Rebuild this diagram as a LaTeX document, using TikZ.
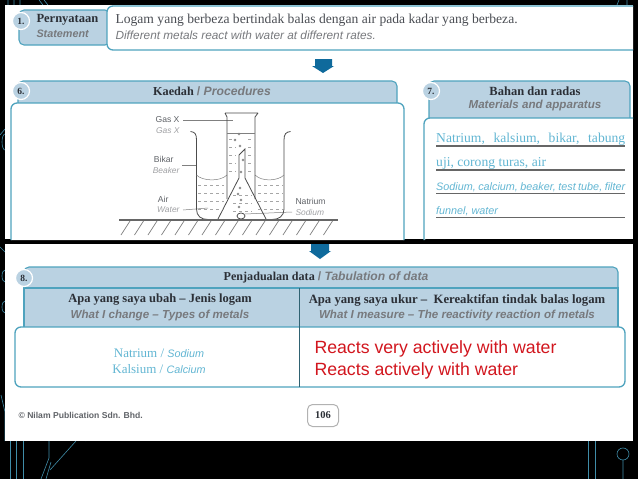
\documentclass[tikz,border=0pt]{standalone}
\usepackage{fontspec}
\setmainfont{Liberation Serif}
\setsansfont{Liberation Sans}
\definecolor{pageTeal}{HTML}{4FA3BE}
\definecolor{headBlue}{HTML}{BAD2E2}
\definecolor{arrowBlue}{HTML}{0F6A9C}
\definecolor{answerBlue}{HTML}{62B6D3}
\definecolor{noteGrey}{HTML}{77797D}
\definecolor{headInk}{HTML}{2B2F36}
\definecolor{wireTeal}{HTML}{3F8CA8}
\definecolor{reactRed}{HTML}{D2161E}
\usepackage{tikz}
\usetikzlibrary{positioning}

\begin{document}
\begin{tikzpicture}[
                x=1pt, y=-1pt,
                sheet/.style={fill=white, draw=none},
                headbox/.style={fill=headBlue, draw=pageTeal, line width=1.1pt, rounded corners=5pt},
                bodybox/.style={fill=white, draw=pageTeal, line width=1.3pt, rounded corners=6pt},
                numdot/.style={circle, fill=headBlue, draw=white, line width=1.2pt, minimum size=17pt, inner sep=0pt,
                               font=\rmfamily\bfseries\fontsize{9.5}{10}\selectfont, text=headInk},
                bmtext/.style={font=\rmfamily\bfseries\fontsize{12.5}{14}\selectfont, text=headInk},
                entext/.style={font=\sffamily\bfseries\itshape\fontsize{11.6}{13}\selectfont, text=noteGrey},
                parttext/.style={font=\sffamily\fontsize{8.6}{10}\selectfont, text=headInk!75},
                partnote/.style={font=\sffamily\itshape\fontsize{8.4}{10}\selectfont, text=noteGrey!70},
                answerbm/.style={font=\rmfamily\fontsize{13.6}{16}\selectfont, text=answerBlue, inner sep=0pt},
                answeren/.style={font=\sffamily\itshape\fontsize{10.8}{12}\selectfont, text=answerBlue, inner sep=0pt},
                tablecell/.style={font=\rmfamily\fontsize{13}{15}\selectfont, text=answerBlue},
                reacttext/.style={anchor=west, font=\sffamily\fontsize{17.7}{20}\selectfont, text=reactRed},
                kit/.style={draw=black!70, line width=0.8pt},
                thinkit/.style={draw=black!50, line width=0.5pt},
                rulekit/.style={draw=black!60, line width=1.4pt},
                wire/.style={draw=wireTeal, line width=0.6pt},
                blockarrow/.style={fill=arrowBlue, draw=none}
            ]
                \fill[black] (0,0) rectangle (638,479);
                \useasboundingbox (0,0) rectangle (638,479);
                \draw[wire] (8,0) -- (8,5) (14,0) -- (14,5) (20,0) -- (20,5) (39,0) -- (43,5) (44,0) -- (48,5);
                \draw[wire] (617,5) -- (619,0) (627,0) -- (627,5);
                \draw[wire] (0,135) -- (5,129) (5,150) arc (90:270:3 and 8);
                \draw[wire] (0,247) -- (5,252) (5,282) arc (90:270:3 and 6) (5,313) arc (90:270:3 and 6);
                \draw[wire] (1,395) -- (5,412) -- (5,441);
                \draw[wire] (10,441) -- (10,479) (16,441) -- (16,479) (23,441) -- (23,479);
                \draw[wire] (49,441) -- (49,458) -- (41,479) (46,479) -- (51,462);
                \draw[wire] (76,441) -- (50,470) (78,441) arc (180:360:4 and 2.5);
                \draw[wire] (588,441) -- (588,479) (595,441) -- (595,479);
                \draw[wire] (623,460) -- (623,479) (623,454) circle (6);

                \fill[sheet] (5,5) rectangle (633,239);
                \fill[sheet] (5,244) rectangle (633,441);

                \draw[headbox] (19,10) -- (19,45) -- (110,45) -- (110,10) -- cycle;
                \draw[bodybox] (633,6) -- (107,6) -- (107,50) -- (633,50);
                \node[numdot] (n1) at (21,21) {1.};
                \node[bmtext, anchor=west] (stateBm) at (33,20) {Pernyataan};
                \node[entext, anchor=west, font=\sffamily\bfseries\itshape\fontsize{10.8}{12}\selectfont] (stateEn) at (33,34) {Statement};
                \node[anchor=west, font=\rmfamily\fontsize{13.6}{15}\selectfont, text=headInk!85] (lineBm) at (112,20) {Logam yang berbeza bertindak balas dengan air pada kadar yang berbeza.};
                \node[anchor=west, font=\sffamily\itshape\fontsize{11.8}{13}\selectfont, text=noteGrey] (lineEn) at (112,35) {Different metals react with water at different rates.};

                \fill[blockarrow] (315,59) -- (332,59) -- (332,66) -- (334,66) -- (323,73) -- (312,66) -- (315,66) -- cycle;

                \draw[headbox] (18,106) -- (18,81) -- (397,81) -- (397,106);
                \draw[bodybox] (11,240) -- (11,103) -- (404,103) -- (404,240);
                \node[numdot] (n6) at (21,91) {6.};
                \node[font=\fontsize{12.2}{14}\selectfont] (procTitle) at (212,91) {\textcolor{headInk}{\rmfamily\bfseries Kaedah} \textcolor{noteGrey}{\sffamily\bfseries /~\itshape Procedures}};

                \node[parttext, anchor=east] (gasBm) at (183,120) {Gas X};
                \node[partnote, anchor=east] (gasEn) at (183,131) {Gas X};
                \node[parttext, anchor=east] (bikBm) at (177,159) {Bikar};
                \node[partnote, anchor=east] (bikEn) at (183,170) {Beaker};
                \node[parttext, anchor=east] (airBm) at (172,199) {Air};
                \node[partnote, anchor=east] (airEn) at (183,210) {Water};
                \node[parttext, anchor=west] (naBm) at (292,201) {Natrium};
                \node[partnote, anchor=west] (naEn) at (292,212) {Sodium};

                \coordinate (gasEnd) at (233,120);
                \coordinate (bikStart) at (182,165);
                \coordinate (bikEnd) at (196,165);
                \coordinate (airEnd) at (208,208);
                \coordinate (naEnd) at (245,214);
                \draw[thinkit] (gasBm.east) -- (gasEnd);
                \draw[thinkit] (bikStart) -- (bikEnd);
                \draw[thinkit] (airEn.east) -- (airEnd);
                \draw[thinkit] (naEnd) -- (naEn.west);

                \draw[kit] (190.5,131.5) .. controls (195,132) and (196.5,134) .. (196.5,140) -- (196.5,209)
                    .. controls (196.5,216) and (201,219.5) .. (208,219.5) -- (272,219.5)
                    .. controls (279,219.5) and (284,216) .. (284,209) -- (284,140)
                    .. controls (284,134) and (286,132) .. (290.5,131.5);
                \draw[thinkit] (196.5,175) .. controls (202,181) and (220,182) .. (227,175);
                \draw[thinkit] (255,175) .. controls (262,182) and (278,181) .. (284,175);
                \draw[kit] (225,113) -- (258,113) (225,113) -- (227,117) -- (227,199) (258,113) -- (255,117) -- (255,199);
                \draw[thinkit, line width=0.9pt] (227,133) -- (255,133);
                \draw[kit] (239,155) -- (245,149) -- (245,178) -- (266,219) (239,155) -- (239,178) -- (218,219);
                \draw[kit] (241,216) ellipse (4 and 3);
                \foreach \wy in {185,193,201,209} {
                    \draw[thinkit, dashed, black!35] (198,\wy) -- (224,\wy);
                    \draw[thinkit, dashed, black!35] (258,\wy) -- (283,\wy);
                }
                \foreach \wy in {139,147,155,163,171} {
                    \draw[thinkit, dashed, black!35] (229,\wy) -- (236,\wy);
                    \draw[thinkit, dashed, black!35] (248,\wy) -- (254,\wy);
                }
                \foreach \wy in {195,203,211} {
                    \draw[thinkit, dashed, black!35] (233,\wy) -- (252,\wy);
                }
                \foreach \bx/\by in {239/134,235/140,240/146,243/160,241/172,240/188,238/194,241/200,239/207} {
                    \draw[thinkit] (\bx,\by) circle (1);
                }
                \draw[rulekit] (119,220) -- (338,220);
                \foreach \hx in {130,143.5,...,333} {
                    \draw[thinkit, line width=0.7pt] (\hx,221) -- (\hx-9,235);
                }

                \draw[headbox] (429,118) -- (429,81) -- (630,81) -- (630,118);
                \draw[bodybox] (424,240) -- (424,118) -- (633,118);
                \node[numdot] (n7) at (431,91) {7.};
                \node[bmtext] (matBm) at (535,91) {Bahan dan radas};
                \node[entext] (matEn) at (535,106) {Materials and apparatus};
                \node[answerbm, anchor=base west] (ansA) at (436,142) {\makebox[189pt][s]{Natrium, kalsium, bikar, tabung}};
                \node[answerbm, anchor=base west] (ansB) at (436,166) {uji, corong turas, air};
                \node[answeren, anchor=base west] (ansC) at (436,190) {\makebox[189pt][s]{Sodium, calcium, beaker, test tube, filter}};
                \node[answeren, anchor=base west] (ansD) at (436,214) {funnel, water};
                \foreach \ry in {146,170,193.5,217.5} {
                    \draw[rulekit] (436,\ry) -- (625,\ry);
                }

                \fill[blockarrow] (311,244) -- (329,244) -- (329,251) -- (331,251) -- (320,259) -- (309,251) -- (311,251) -- cycle;

                \draw[headbox] (24,288) -- (24,267) -- (618,267) -- (618,288);
                \draw[headbox, rounded corners=0pt] (24,288) rectangle (618,328);
                \draw[bodybox] (15,327) rectangle (625,387);
                \draw[draw=pageTeal!60!black, line width=0.9pt] (299.5,288) -- (299.5,387);
                \node[numdot] (n8) at (24,278) {8.};
                \node[font=\fontsize{12.1}{14}\selectfont] (dataTitle) at (326,277) {\textcolor{headInk}{\rmfamily\bfseries Penjadualan data} \textcolor{noteGrey}{\sffamily\bfseries /~\itshape Tabulation of data}};
                \node[bmtext] (leftBm) at (160,300) {Apa yang saya ubah -- Jenis logam};
                \node[entext] (leftEn) at (160,315) {What I change -- Types of metals};
                \node[bmtext, font=\rmfamily\bfseries\fontsize{12.7}{14}\selectfont] (rightBm) at (457,300) {Apa yang saya ukur --\ \ Kereaktifan tindak balas logam};
                \node[entext] (rightEn) at (457,315) {What I measure -- The reactivity reaction of metals};
                \node[tablecell] (cellNa) at (159,353) {Natrium / {\sffamily\itshape\fontsize{10.8}{12}\selectfont Sodium}};
                \node[tablecell] (cellKa) at (159,369) {Kalsium / {\sffamily\itshape\fontsize{10.8}{12}\selectfont Calcium}};
                \node[reacttext] (reactA) at (311,349) {Reacts very actively with water};
                \node[reacttext] (reactB) at (311,371) {Reacts actively with water};

                \node[anchor=west, font=\sffamily\bfseries\fontsize{8.6}{10}\selectfont, text=headInk!75] (credit) at (15,415) {© Nilam Publication Sdn. Bhd.};
                \node[draw=black!30, line width=1pt, fill=white, rounded corners=5pt, minimum width=31pt, minimum height=22pt, inner sep=0pt,
                      font=\rmfamily\bfseries\fontsize{10.5}{12}\selectfont, text=headInk] (pageNo) at (323,415.5) {106};
            \end{tikzpicture}
\end{document}
